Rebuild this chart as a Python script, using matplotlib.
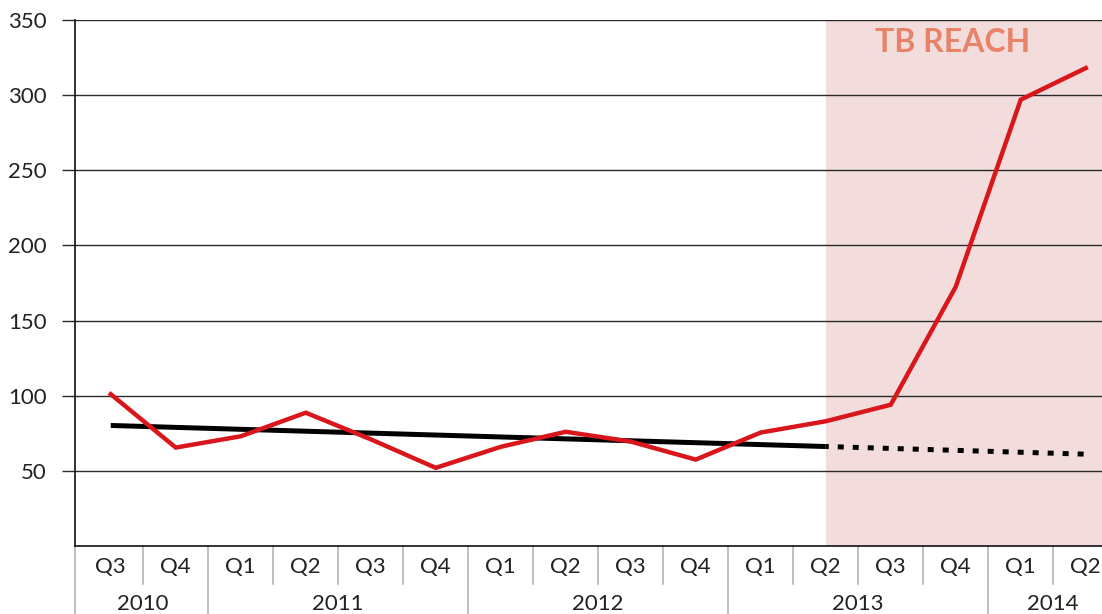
import matplotlib
matplotlib.use("Agg")
import matplotlib.pyplot as plt
import matplotlib.transforms as mtransforms
import numpy as np

# quarters and years
quarters = ["Q3", "Q4", "Q1", "Q2", "Q3", "Q4", "Q1", "Q2", "Q3", "Q4",
            "Q1", "Q2", "Q3", "Q4", "Q1", "Q2"]
years = ["2010", "2011", "2012", "2013", "2014"]
year_spans = [(0, 1), (2, 5), (6, 9), (10, 13), (14, 15)]

# case notifications per quarter (red line)
cases = [101, 65.5, 73, 88.7, 71, 52, 66, 76, 69.5, 57.5,
         75.5, 83, 94, 172.5, 297, 318]

# linear trend: solid over baseline, dotted projection over the TB REACH period
trend_x_solid = [0, 11]
trend_solid = [80.2, 66.2]
trend_x_proj = [11, 15]
trend_proj = [66.2, 61.1]

reach_start = 11

FONT = ["Lato", "DejaVu Sans"]
plt.rcParams["font.family"] = FONT

fig = plt.figure(figsize=(11.02, 6.14), dpi=100)
ax = fig.add_axes([75 / 1102, 1 - 546 / 614, 1 - 75 / 1102, (546 - 20) / 614])

x = np.arange(len(quarters))
x_left = -0.55
x_right = 15.25
ax.set_xlim(x_left, x_right)
ax.set_ylim(0, 350)

# TB REACH shaded period
ax.axvspan(reach_start, x_right, color="#f2dcdc", lw=0, zorder=0)
ax.text(12.95, 335, "TB REACH", color="#e8836a", fontsize=23, fontweight="bold",
        ha="center", va="center")

# grid
yt = [50, 100, 150, 200, 250, 300, 350]
ax.set_yticks(yt)
ax.set_yticklabels([str(v) for v in yt], fontsize=16, color="#222222")
for v in yt:
    ax.axhline(v, color="#2a2a2a", lw=1.0, zorder=1)
ax.tick_params(axis="y", length=9.4, width=1.0, color="#2a2a2a", pad=11)
ax.tick_params(axis="x", length=0, labelbottom=False)

for s in ["top", "right"]:
    ax.spines[s].set_visible(False)
ax.spines["left"].set_color("#111111")
ax.spines["bottom"].set_color("#111111")
ax.spines["left"].set_linewidth(1.2)
ax.spines["bottom"].set_linewidth(1.2)

# lines
ax.plot(x, cases, color="#d9161c", lw=3.2, solid_joinstyle="miter", zorder=4)
ax.plot(trend_x_solid, trend_solid, color="black", lw=3.6,
        solid_capstyle="butt", zorder=3)
ax.plot(trend_x_proj, trend_proj, color="black", lw=3.6,
        linestyle=(0.6, (1.2, 1.8)), dash_capstyle="butt", zorder=3)

# category axis: quarter labels, year labels and separators
trans = mtransforms.blended_transform_factory(ax.transData, ax.transAxes)
for i, q in enumerate(quarters):
    ax.text(i, -0.04, q, transform=trans, ha="center", va="center",
            fontsize=16, color="#222222", clip_on=False)

year_bounds = [s[0] - 0.5 for s in year_spans]
for i in range(len(quarters)):
    b = i - 0.5
    if b == -0.5:
        b = x_left
    if i - 0.5 in year_bounds:
        ax.plot([b, b], [0, -0.2], transform=trans, color="#b5b5b5",
                lw=1.2, clip_on=False)
    else:
        ax.plot([b, b], [0, -0.072], transform=trans, color="#b5b5b5",
                lw=1.2, clip_on=False)

for yr, (a, b) in zip(years, year_spans):
    ax.text((a + b) / 2, -0.111, yr, transform=trans, ha="center", va="center",
            fontsize=16, color="#222222", clip_on=False)

fig.savefig("out.png", dpi=100)
